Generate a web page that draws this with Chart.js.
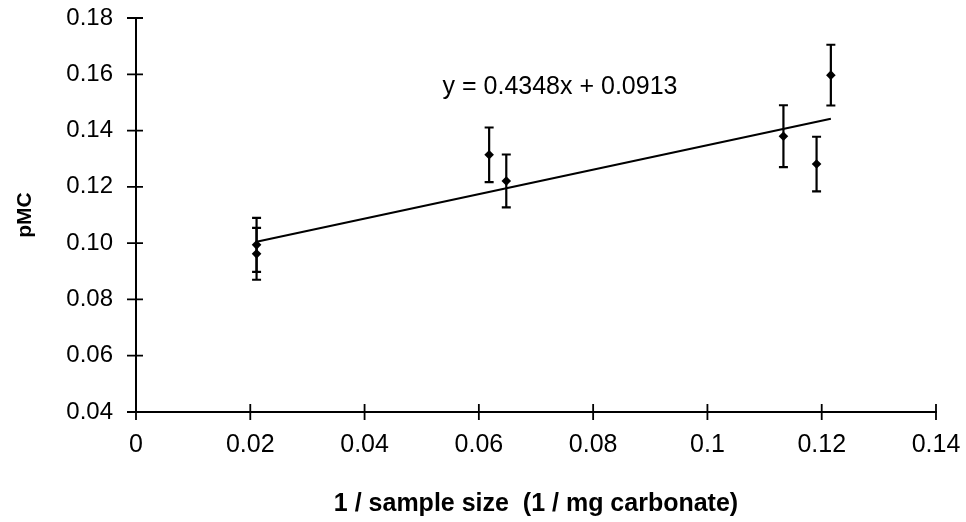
<!DOCTYPE html>
<html>
<head>
<meta charset="utf-8">
<script src="https://cdn.jsdelivr.net/npm/chart.js@4.4.0/dist/chart.umd.min.js"></script>
<style>
  html, body { margin: 0; padding: 0; background: #fff; }
  #wrap { width: 966px; height: 522px; }
</style>
</head>
<body>
<div id="wrap"><canvas id="pmc-canvas" width="966" height="522"></canvas></div>
<script>
// values
var sampleX = [0.0211, 0.0211, 0.0618, 0.0648, 0.1133, 0.1191, 0.1216]
var pmcY = [0.0994, 0.0962, 0.1314, 0.1221, 0.1380, 0.1281, 0.1597]
var pmcErr = [0.0096, 0.0092, 0.0097, 0.0094, 0.0110, 0.0097, 0.0108]
var trendX = [0.0211, 0.1216]
var trendY = [0.1005, 0.1442]
var xTicks = [0, 0.02, 0.04, 0.06, 0.08, 0.1, 0.12, 0.14]
var yTicks = [0.04, 0.06, 0.08, 0.10, 0.12, 0.14, 0.16, 0.18]
var equationText = 'y = 0.4348x + 0.0913'

function get_points(xs, ys) {
    var pts = []
    for (let i = 0; i < xs.length; i++) {
        pts.push({x: xs[i], y: ys[i]})
    }
    return pts
}

var fontName = '"Liberation Sans", Arial, sans-serif'

// error bars, crossing tick marks and the equation label
var extrasPlugin = {
    id: 'extras',
    afterDatasetsDraw: function (chart) {
        var ctx = chart.ctx
        var xs = chart.scales.x
        var ys = chart.scales.y
        ctx.save()
        ctx.strokeStyle = '#000'
        ctx.lineWidth = 2.2
        for (let i = 0; i < sampleX.length; i++) {
            var px = xs.getPixelForValue(sampleX[i])
            var top = ys.getPixelForValue(pmcY[i] + pmcErr[i])
            var bot = ys.getPixelForValue(pmcY[i] - pmcErr[i])
            ctx.beginPath()
            ctx.moveTo(px, top); ctx.lineTo(px, bot)
            ctx.moveTo(px - 4.5, top); ctx.lineTo(px + 4.5, top)
            ctx.moveTo(px - 4.5, bot); ctx.lineTo(px + 4.5, bot)
            ctx.stroke()
        }
        // axis tick marks that cross the axis lines
        ctx.lineWidth = 1.8
        var ax = chart.chartArea
        ctx.beginPath()
        for (let i = 0; i < yTicks.length; i++) {
            var py = ys.getPixelForValue(yTicks[i])
            ctx.moveTo(ax.left - 9, py); ctx.lineTo(ax.left + 7, py)
        }
        for (let i = 0; i < xTicks.length; i++) {
            var qx = xs.getPixelForValue(xTicks[i])
            ctx.moveTo(qx, ax.bottom - 8); ctx.lineTo(qx, ax.bottom + 8)
        }
        ctx.stroke()
        ctx.fillStyle = '#000'
        ctx.font = '25px ' + fontName
        ctx.textAlign = 'center'
        ctx.textBaseline = 'middle'
        ctx.fillText(equationText, xs.getPixelForValue(0.0742), ys.getPixelForValue(0.1555))
        ctx.restore()
    }
}

var ctx = document.getElementById('pmc-canvas').getContext('2d')
var pmcChart = new Chart(ctx, {
    type: 'scatter',
    data: {
        datasets: [{
            label: 'pMC',
            data: get_points(sampleX, pmcY),
            pointStyle: 'rectRot',
            pointRadius: 4.8,
            backgroundColor: '#000',
            borderColor: '#000',
            borderWidth: 0,
            order: 1
        }, {
            type: 'line',
            label: 'trend',
            data: get_points(trendX, trendY),
            borderColor: '#000',
            borderWidth: 2.2,
            pointRadius: 0,
            fill: false,
            order: 2
        }]
    },
    options: {
        responsive: false,
        animation: false,
        layout: { padding: { top: 18, right: 30, left: 0, bottom: 0 } },
        plugins: {
            legend: { display: false },
            tooltip: { enabled: false }
        },
        scales: {
            x: {
                type: 'linear',
                min: 0,
                max: 0.14,
                afterBuildTicks: function (scale) {
                    scale.ticks = xTicks.map(function (v) { return {value: v} })
                },
                afterFit: function (scale) {
                    scale.height = 110
                    scale.paddingLeft = 0
                    scale.paddingRight = 0
                },
                grid: { display: true, drawOnChartArea: false, drawTicks: false, color: '#000' },
                border: { display: true, color: '#000', width: 2 },
                ticks: {
                    color: '#000',
                    padding: 18,
                    maxRotation: 0,
                    font: { family: fontName, size: 25 },
                    callback: function (v) { return String(Math.round(v * 100) / 100) }
                },
                title: {
                    display: true,
                    text: '1 / sample size  (1 / mg carbonate)',
                    color: '#000',
                    font: { family: fontName, size: 25, weight: 'bold' },
                    padding: { top: 0, bottom: 3 }
                }
            },
            y: {
                type: 'linear',
                min: 0.04,
                max: 0.18,
                afterBuildTicks: function (scale) {
                    scale.ticks = yTicks.map(function (v) { return {value: v} })
                },
                afterFit: function (scale) {
                    scale.width = 136
                    scale.paddingTop = 0
                    scale.paddingBottom = 0
                },
                grid: { display: true, drawOnChartArea: false, drawTicks: false, color: '#000' },
                border: { display: true, color: '#000', width: 2 },
                ticks: {
                    color: '#000',
                    padding: 23,
                    font: { family: fontName, size: 24 },
                    callback: function (v) { return v.toFixed(2) }
                },
                title: {
                    display: true,
                    text: 'pMC',
                    color: '#000',
                    font: { family: fontName, size: 21, weight: 'bold' },
                    padding: { top: 13, bottom: 0 }
                }
            }
        }
    },
    plugins: [extrasPlugin]
})
</script>
</body>
</html>
